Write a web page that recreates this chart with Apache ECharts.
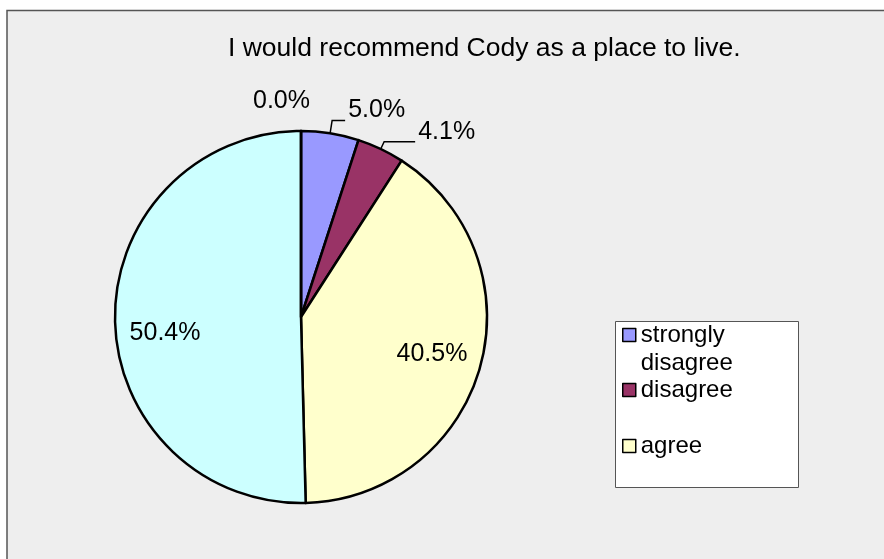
<!DOCTYPE html>
<html>
<head>
<meta charset="utf-8">
<title>I would recommend Cody as a place to live.</title>
<script src="https://cdn.jsdelivr.net/npm/echarts@6/dist/echarts.min.js"></script>
<style>
  html, body { margin: 0; padding: 0; background: #ffffff; }
  #chart { width: 884px; height: 559px; }
</style>
</head>
<body>
<div id="chart"></div>
<script>
// Survey answers, in the order the slices run clockwise from 12 o'clock
const categories = ['strongly disagree', 'disagree', 'agree', 'strongly agree', "don't know"];
const shares = [5.0, 4.1, 40.5, 50.4, 0.0];
const legendNames = ['strongly disagree', 'disagree', 'agree'];
const titleText = 'I would recommend Cody as a place to live.';

// Styling
const sliceColors = {
  'strongly disagree': '#9999ff',
  'disagree': '#993366',
  'agree': '#ffffcc',
  'strongly agree': '#ccffff',
  "don't know": '#ffffff'
};
const FONT = '"Liberation Sans", Arial, sans-serif';
// a hard, barely offset shadow thickens the strokes of the type a little
const heavy = {
  color: '#000',
  textShadowColor: '#000',
  textShadowBlur: 0,
  textShadowOffsetX: 0.7,
  textShadowOffsetY: 0.3
};
const CENTER = [301, 317];
const RADIUS = 186;

const pct = p => p.value.toFixed(1) + '%';
// a trailing blank line lifts the value above its leader line
const pctRaised = p => pct(p) + '\n ';
// a leading blank line drops the value a little below the slice centre line
const pctLowered = p => ' \n' + pct(p);

// Small slices: labels outside the pie with leader lines
const outerLabels = {
  'strongly disagree': {
    label: { show: true, formatter: pctRaised, lineHeight: 20 },
    labelLine: { show: true, length: 13, length2: 13 }
  },
  'disagree': {
    label: { show: true, formatter: pctRaised, lineHeight: 20 },
    labelLine: { show: true, length: 8, length2: 31 }
  },
  "don't know": {
    label: { show: true, distanceToLabelLine: -9 },
    labelLine: { show: false, length: 30, length2: 0 }
  }
};
// Large slices: labels placed inside, about 70% of the way out
const innerLabels = {
  'agree': { label: { show: true } },
  'strongly agree': { label: { show: true, formatter: pctLowered, lineHeight: 28 } }
};

const mainData = categories.map((name, i) => {
  const extra = outerLabels[name] || { label: { show: false }, labelLine: { show: false } };
  return {
    name,
    value: shares[i],
    itemStyle: { color: sliceColors[name] },
    label: extra.label,
    labelLine: extra.labelLine
  };
});

const labelData = categories.map((name, i) => ({
  name,
  value: shares[i],
  label: (innerLabels[name] || { label: { show: false } }).label
}));

// one legend block per entry so each sits on its own row of the box
const legendTops = [293, 376, 432];
const legends = legendNames.map((name, i) => ({
  data: [name],
  // the first entry wraps onto two lines; a blank leading line keeps
  // its swatch level with the first line of text
  formatter: n => (i === 0 ? ' \n' + n.replace(' ', '\n') : n),
  orient: 'vertical',
  left: 622,
  top: legendTops[i],
  padding: 0,
  icon: 'rect',
  itemWidth: 13,
  itemHeight: 13,
  selectedMode: false,
  itemStyle: { borderColor: '#000', borderWidth: 1.5 },
  textStyle: Object.assign({ fontFamily: FONT, fontSize: 24, lineHeight: 28 }, heavy)
}));

const chart = echarts.init(document.getElementById('chart'), null, { renderer: 'canvas' });

chart.setOption({
  animation: false,
  backgroundColor: '#ffffff',
  title: {
    text: titleText,
    left: 228,
    top: 34,
    padding: 0,
    textStyle: Object.assign({ fontFamily: FONT, fontSize: 26.5, fontWeight: 'normal', lineHeight: 30 }, heavy)
  },
  legend: legends,
  graphic: [
    {
      type: 'rect',
      z: -10,
      silent: true,
      shape: { x: 7, y: 10.5, width: 900, height: 600 },
      style: { fill: '#eeeeee', stroke: '#555555', lineWidth: 1.5 }
    },
    {
      type: 'rect',
      z: 1,
      silent: true,
      shape: { x: 615.5, y: 321.5, width: 183, height: 166 },
      style: { fill: '#ffffff', stroke: '#555555', lineWidth: 1 }
    }
  ],
  series: [
    {
      type: 'pie',
      center: CENTER,
      radius: [0, RADIUS],
      startAngle: 90,
      clockwise: true,
      avoidLabelOverlap: false,
      emphasis: { disabled: true },
      itemStyle: { borderColor: '#000', borderWidth: 2.5 },
      label: Object.assign({
        position: 'outside',
        formatter: pct,
        distanceToLabelLine: 3,
        fontFamily: FONT,
        fontSize: 25,
        lineHeight: 24
      }, heavy),
      labelLine: { lineStyle: { color: '#000', width: 1.5 }, smooth: false },
      data: mainData
    },
    {
      // transparent copy of the pie, used only to carry the inner labels
      type: 'pie',
      center: CENTER,
      radius: [0, 266],
      startAngle: 90,
      clockwise: true,
      silent: true,
      avoidLabelOverlap: false,
      emphasis: { disabled: true },
      itemStyle: { color: 'rgba(0,0,0,0)', borderWidth: 0 },
      label: Object.assign({
        position: 'inside',
        formatter: pct,
        fontFamily: FONT,
        fontSize: 25,
        lineHeight: 28
      }, heavy),
      labelLine: { show: false },
      data: labelData
    }
  ]
});
</script>
</body>
</html>
